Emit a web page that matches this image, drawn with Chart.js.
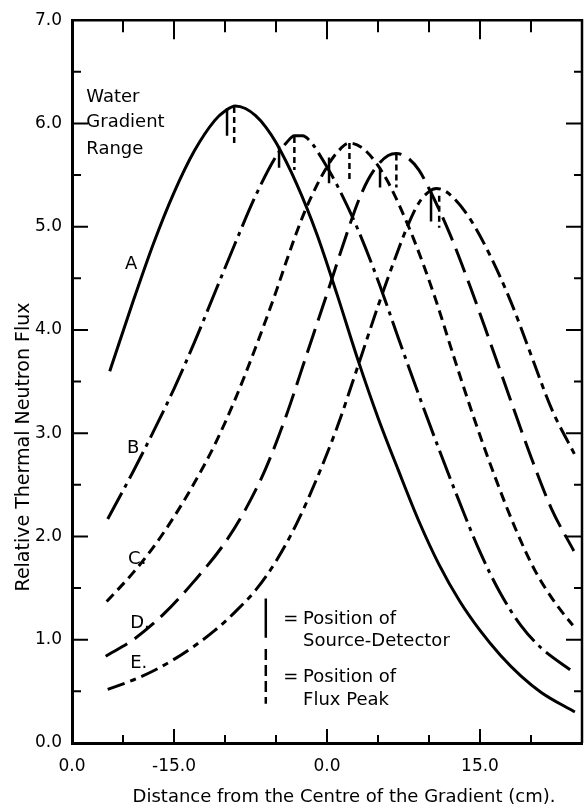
<!DOCTYPE html>
<html>
<head>
<meta charset="utf-8">
<title>Relative Thermal Neutron Flux</title>
<script src="https://cdn.jsdelivr.net/npm/chart.js@4.4.0/dist/chart.umd.min.js"></script>
<style>
    html, body { margin: 0; padding: 0; background: #fff; }
    #wrap { position: relative; width: 584px; height: 807px; }
</style>
</head>
<body>
<div id="wrap"><canvas id="fluxChart"></canvas></div>
<script>
// Curve A (solid line)
const xA = [-21.3, -19, -17, -15, -13, -11, -10, -9, -8, -7, -6, -5, -3, -1, 1, 3, 5, 7, 9, 11, 13, 15, 17, 19, 21, 24.3];
const yA = [3.60, 4.28, 4.84, 5.33, 5.735, 6.03, 6.12, 6.17, 6.145, 6.075, 5.965, 5.815, 5.42, 4.93, 4.34, 3.72, 3.15, 2.64, 2.15, 1.725, 1.375, 1.09, 0.85, 0.65, 0.49, 0.30];

// Curve B (dash - dot)
const xB = [-21.5, -19, -17, -15, -13, -11, -9, -7, -5, -4, -3.2, -2.4, -1.5, -0.5, 1, 3, 5, 7, 9, 11, 13, 15, 17, 19, 21, 24.1];
const yB = [2.17, 2.63, 3.02, 3.43, 3.88, 4.36, 4.84, 5.30, 5.68, 5.81, 5.88, 5.88, 5.81, 5.66, 5.40, 4.98, 4.48, 3.92, 3.37, 2.84, 2.33, 1.85, 1.45, 1.14, 0.92, 0.69];

// Curve C (short dashes)
const xC = [-21.6, -19, -17, -15, -13, -11, -9, -7, -5, -4, -3, -2, -1, 0, 1, 2.2, 3.5, 4.8, 6, 7.3, 8.5, 10.5, 12.5, 14.5, 16.5, 18.5, 20.5, 22.5, 24.1];
const yC = [1.37, 1.65, 1.90, 2.19, 2.52, 2.89, 3.33, 3.83, 4.37, 4.66, 4.94, 5.19, 5.40, 5.58, 5.72, 5.81, 5.76, 5.62, 5.43, 5.16, 4.88, 4.34, 3.72, 3.12, 2.57, 2.07, 1.65, 1.34, 1.14];

// Curve D (long dashes)
const xD = [-21.7, -19, -16, -13, -10, -8, -6, -4, -2, 0, 2, 3, 4, 5, 6, 6.8, 8, 9, 10, 12, 14, 16, 18, 20, 22, 24.2];
const yD = [0.84, 1.00, 1.25, 1.57, 1.94, 2.26, 2.66, 3.17, 3.76, 4.35, 4.95, 5.23, 5.45, 5.60, 5.69, 5.71, 5.66, 5.55, 5.37, 4.94, 4.43, 3.88, 3.32, 2.77, 2.27, 1.86];

// Curve E (dash - short dash)
const xE = [-21.5, -19, -17, -15, -13, -11, -9, -7, -5, -3, -1, 1, 3, 5, 7, 8, 9, 10, 10.7, 11.5, 12.5, 14, 16, 18, 20, 22, 24.3];
const yE = [0.52, 0.61, 0.70, 0.81, 0.94, 1.09, 1.27, 1.48, 1.76, 2.12, 2.56, 3.06, 3.64, 4.23, 4.78, 5.03, 5.23, 5.34, 5.37, 5.35, 5.27, 5.08, 4.72, 4.28, 3.76, 3.24, 2.79];

// Source-detector position markers (solid) and flux peak markers (dashed), curves A..E
const sourceX = [-9.8, -4.7, 0.2, 5.2, 10.2];
const sourceTop = [6.15, 5.78, 5.67, 5.57, 5.35];
const sourceBottom = [5.88, 5.57, 5.42, 5.38, 5.05];
const peakX = [-9.1, -3.2, 2.2, 6.8, 11.0];
const peakTop = [6.16, 5.87, 5.81, 5.70, 5.30];
const peakBottom = [5.80, 5.55, 5.46, 5.38, 4.99];

// Axes
const xTickValues = [-25, -15, 0, 15];
const xTickLabels = ['0.0', '-15.0', '0.0', '15.0'];
const xTickMarks = [-20, -15, -10, -5, 0, 5, 10, 15, 20];
const yTickValues = [0, 1, 2, 3, 4, 5, 6, 7];
const yTickMarks = [0.5, 1, 1.5, 2, 2.5, 3, 3.5, 4, 4.5, 5, 5.5, 6, 6.5];

// Text in the plot
const curveNames = ['A', 'B', 'C.', 'D.', 'E.'];
const curveNameX = [-19.8, -19.6, -19.5, -19.3, -19.3];
const curveNameY = [4.64, 2.85, 1.78, 1.16, 0.77];
const rangeLines = ['Water', 'Gradient', 'Range'];
const rangeY = [6.25, 6.01, 5.75];
const keyLines = ['Position of', 'Source-Detector', 'Position of', 'Flux Peak'];
const keyY = [1.20, 0.98, 0.635, 0.41];

const FONT = '"DejaVu Sans", sans-serif';

function curve(xs, ys, dash) {
    return {
        data: xs.map((x, i) => ({ x: x, y: ys[i] })),
        borderColor: '#000',
        borderWidth: 3,
        borderDash: dash,
        pointRadius: 0,
        fill: false,
        cubicInterpolationMode: 'monotone'
    };
}

function segment(x, y0, y1, dash) {
    return {
        data: [{ x: x, y: y0 }, { x: x, y: y1 }],
        borderColor: '#000',
        borderWidth: 2.5,
        borderDash: dash,
        pointRadius: 0,
        fill: false
    };
}

const datasets = [
    curve(xA, yA, []),
    curve(xB, yB, [30, 6, 4, 6]),
    curve(xC, yC, [10, 6]),
    curve(xD, yD, [25, 9]),
    curve(xE, yE, [18, 6, 6, 6])
];
sourceX.forEach((x, i) => datasets.push(segment(x, sourceTop[i], sourceBottom[i], [])));
peakX.forEach((x, i) => datasets.push(segment(x, peakTop[i], peakBottom[i], [6, 4])));
// key samples
datasets.push(segment(-6.0, 1.40, 1.02, []));
datasets.push(segment(-6.0, 0.91, 0.38, [11, 5]));

// Frame, inward ticks and texts
const frameAndText = {
    id: 'frameAndText',
    afterDraw(chart) {
        const { ctx, chartArea: a, scales: { x, y } } = chart;
        ctx.save();
        ctx.strokeStyle = '#000';
        ctx.fillStyle = '#000';

        ctx.lineWidth = 2.5;
        ctx.beginPath();
        ctx.moveTo(a.left, a.top);
        ctx.lineTo(a.right, a.top);
        ctx.lineTo(a.right, a.bottom);
        ctx.stroke();

        ctx.lineWidth = 2;
        ctx.beginPath();
        yTickMarks.forEach(v => {
            const py = y.getPixelForValue(v);
            const major = Number.isInteger(v);
            ctx.moveTo(a.left, py);
            ctx.lineTo(a.left + (major ? 16 : 9), py);
            ctx.moveTo(a.right, py);
            ctx.lineTo(a.right - (major ? 16 : 8), py);
        });
        xTickMarks.forEach(v => {
            const px = x.getPixelForValue(v);
            const major = xTickValues.includes(v);
            ctx.moveTo(px, a.bottom);
            ctx.lineTo(px, a.bottom - (major ? 14 : 8));
            ctx.moveTo(px, a.top);
            ctx.lineTo(px, a.top + (major ? 19 : 12));
        });
        ctx.stroke();

        ctx.font = '18px ' + FONT;
        ctx.textAlign = 'left';
        ctx.textBaseline = 'middle';
        curveNames.forEach((t, i) => {
            ctx.fillText(t, x.getPixelForValue(curveNameX[i]), y.getPixelForValue(curveNameY[i]));
        });
        rangeLines.forEach((t, i) => {
            ctx.fillText(t, x.getPixelForValue(-23.6), y.getPixelForValue(rangeY[i]));
        });
        ctx.fillText('=', x.getPixelForValue(-4.3), y.getPixelForValue(keyY[0]));
        ctx.fillText('=', x.getPixelForValue(-4.3), y.getPixelForValue(keyY[2]));
        keyLines.forEach((t, i) => {
            ctx.fillText(t, x.getPixelForValue(-2.35), y.getPixelForValue(keyY[i]));
        });

        // axis titles
        ctx.textAlign = 'center';
        ctx.fillText('Distance from the Centre of the Gradient (cm).', 344, 797);
        ctx.font = '19px ' + FONT;
        ctx.translate(24, 447);
        ctx.rotate(-Math.PI / 2);
        ctx.fillText('Relative Thermal Neutron Flux', 0, 0);
        ctx.restore();
    }
};

const tickFont = { family: FONT, size: 17 };

new Chart(document.getElementById('fluxChart'), {
    type: 'line',
    data: { datasets: datasets },
    options: {
        responsive: true,
        maintainAspectRatio: false,
        animation: false,
        layout: { padding: { left: 0, right: 2, top: 15, bottom: 0 } },
        plugins: {
            legend: { display: false },
            tooltip: { enabled: false }
        },
        scales: {
            x: {
                type: 'linear',
                min: -25,
                max: 25,
                afterBuildTicks: s => { s.ticks = xTickValues.map(v => ({ value: v })); },
                afterFit: s => { s.height = 64; },
                ticks: {
                    color: '#000',
                    font: tickFont,
                    padding: 13,
                    maxRotation: 0,
                    autoSkip: false,
                    callback: v => xTickLabels[xTickValues.indexOf(v)]
                },
                grid: { display: false, drawTicks: false },
                border: { display: true, color: '#000', width: 3 }
            },
            y: {
                type: 'linear',
                min: 0,
                max: 7,
                afterBuildTicks: s => { s.ticks = yTickValues.map(v => ({ value: v })); },
                afterFit: s => { s.width = 72; },
                ticks: {
                    color: '#000',
                    font: tickFont,
                    padding: 10,
                    callback: v => v.toFixed(1)
                },
                grid: { display: false, drawTicks: false },
                border: { display: true, color: '#000', width: 3 }
            }
        }
    },
    plugins: [frameAndText]
});
</script>
</body>
</html>
